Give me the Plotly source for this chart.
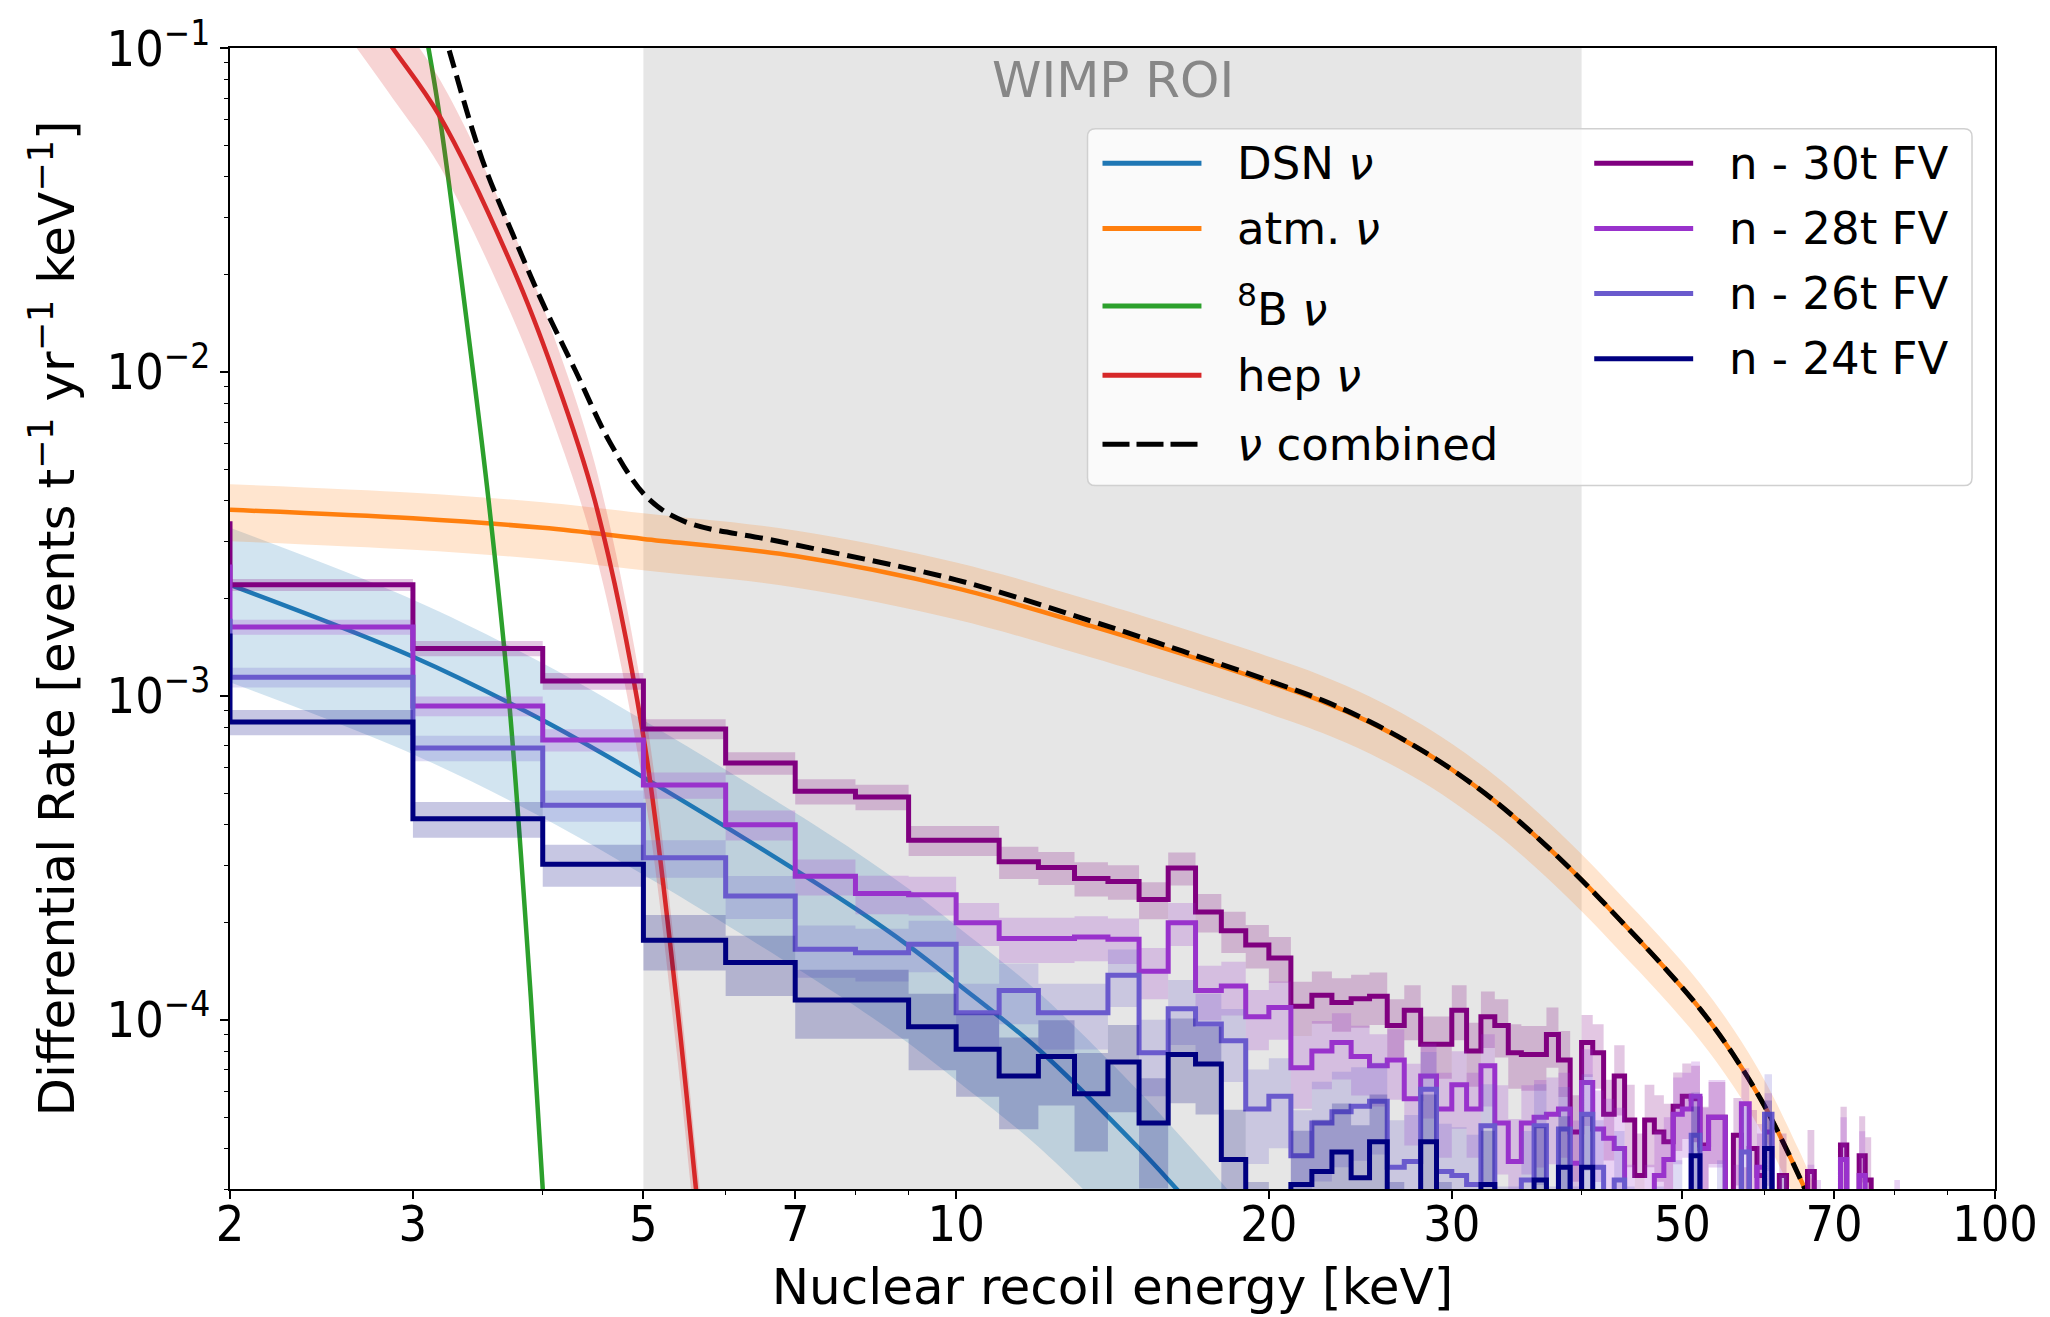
import numpy as np
import plotly.graph_objects as go

# ------------------------------------------------------------------
# DATA
# smooth neutrino spectra: recoil energy [keV] -> rate [events t^-1 yr^-1 keV^-1]
# ------------------------------------------------------------------
dsn_E = [2, 3, 4, 5, 7, 8, 9, 10, 12, 15, 16.3, 18, 19.5]
dsn_R = [2.2e-3, 1.32e-3, 8.4e-4, 5.6e-4, 2.9e-4, 2.2e-4, 1.69e-4, 1.3e-4,
         8.1e-5, 4.0e-5, 3.0e-5, 2.1e-5, 1.55e-5]

atm_E = [2, 3, 4, 5, 7, 10, 13.5, 16.5, 20, 22.5, 25, 27.5, 30, 33, 36.4, 40, 43.5,
         47.5, 52, 55.9, 60.2, 64.8, 67, 68.5]
atm_R = [3.75e-3, 3.53e-3, 3.3e-3, 3.05e-3, 2.70e-3, 2.15e-3, 1.64e-3, 1.346e-3, 1.1e-3,
         9.61e-4, 8.29e-4, 7.05e-4, 5.92e-4, 4.73e-4, 3.61e-4, 2.70e-4, 2.04e-4,
         1.51e-4, 1.08e-4, 7.85e-5, 5.31e-5, 3.28e-5, 2.57e-5, 2.16e-5]

b8_E = [3.05, 3.105, 3.183, 3.428, 3.548, 3.709, 3.896, 4.0, 4.05]
b8_R = [0.135, 0.1, 0.0616, 0.01, 4.0e-3, 1.0e-3, 1.17e-4, 3.0e-5, 1.6e-5]

hep_E = [2.6, 2.868, 3.183, 3.747, 4.095, 4.49, 4.993, 5.377, 5.618, 5.7]
hep_R = [0.155, 0.1, 0.0616, 0.0208, 0.01, 4.0e-3, 7.7e-4, 1.17e-4, 3.0e-5, 1.9e-5]

comb_E = [3.15, 3.246, 3.5, 3.747, 4.0, 4.3, 4.65, 5.04, 5.48, 6.74, 10, 13.5, 16.5,
          20, 22.5, 25, 27.5, 30, 33, 36.4, 40, 43.5, 47.5, 52, 55.9, 60.2, 64.8, 67]
comb_R = [0.14, 0.1, 0.045, 0.0264, 0.0163, 0.0101, 6.0e-3, 4.1e-3, 3.45e-3,
          3.0e-3, 2.28e-3, 1.70e-3, 1.375e-3, 1.113e-3, 9.7e-4, 8.33e-4, 7.06e-4,
          5.92e-4, 4.73e-4, 3.61e-4, 2.70e-4, 2.04e-4, 1.51e-4, 1.08e-4, 7.85e-5,
          5.31e-5, 3.28e-5, 2.57e-5]

# fractional 1-sigma flux uncertainties (shaded bands)
dsn_unc = 0.5
atm_unc = 0.2
hep_unc = 0.3

# neutron background histograms, 1 keV bins from 1 to 100 keV
bin_edges = list(range(1, 101))
n30 = [3.4e-3, 2.20e-3, 1.40e-3, 1.11e-3, 7.9e-4, 6.2e-4, 5.07e-4, 4.87e-4, 3.58e-4, 3.58e-4,
       3.07e-4, 2.95e-4, 2.73e-4, 2.67e-4, 2.35e-4, 2.94e-4, 2.15e-4, 1.88e-4, 1.70e-4, 1.55e-4,
       1.10e-4, 1.19e-4, 1.13e-4, 1.16e-4, 1.18e-4, 9.6e-5, 1.07e-4, 8.4e-5, 8.4e-5, 1.07e-4,
       8.0e-5, 1.02e-4, 9.6e-5, 7.9e-5, 7.8e-5, 7.8e-5, 9.0e-5, 7.5e-5, 4.5e-5, 8.5e-5,
       7.9e-5, 5.1e-5, 6.7e-5, 4.9e-5, 3.3e-5, 4.9e-5, 4.5e-5, 4.2e-5, 5.4e-5, 5.8e-5,
       5.7e-5, 4.1e-5, 5.0e-5, 5.0e-5, 2.0e-5, 4.4e-5, 2.5e-5, 4.0e-5, 3.3e-5, 0,
       2.0e-5, 3.3e-5, 0, 0, 0, 3.4e-5, 2.0e-5, 0, 0, 0,
       4.1e-5, 0, 0, 3.8e-5, 3.2e-5, 0, 0, 0, 0, 0,
       0, 0, 0, 0, 0, 0, 0, 0, 0, 0,
       0, 0, 0, 0, 0, 0, 0, 0, 0]
n28 = [2.5e-3, 1.63e-3, 9.3e-4, 7.3e-4, 5.3e-4, 4.0e-4, 2.77e-4, 2.45e-4, 2.43e-4, 1.99e-4,
       1.78e-4, 1.78e-4, 1.80e-4, 1.77e-4, 1.41e-4, 1.99e-4, 1.23e-4, 1.27e-4, 1.02e-4, 1.09e-4,
       7.1e-5, 8.0e-5, 8.5e-5, 7.7e-5, 7.2e-5, 7.5e-5, 5.7e-5, 6.7e-5, 5.3e-5, 6.3e-5,
       5.3e-5, 7.2e-5, 4.8e-5, 3.65e-5, 4.8e-5, 5.0e-5, 5.1e-5, 5.3e-5, 3.6e-5, 6.4e-5,
       4.6e-5, 4.3e-5, 4.0e-5, 2.5e-5, 2.0e-5, 2.5e-5, 3.3e-5, 3.7e-5, 5.1e-5, 5.3e-5,
       5.8e-5, 4.0e-5, 5.0e-5, 5.0e-5, 2.0e-5, 2.5e-5, 5.5e-5, 2.0e-5, 3.5e-5, 4.5e-5,
       0, 2.0e-5, 0, 0, 2.0e-5, 2.5e-5, 2.2e-5, 0, 0, 0,
       3.7e-5, 2.0e-5, 0, 3.3e-5, 0, 0, 0, 0, 0, 2.2e-5,
       0, 0, 0, 0, 0, 0, 0, 0, 0, 0,
       0, 0, 0, 0, 0, 0, 1.5e-5, 0, 0]
n26 = [1.7e-3, 1.14e-3, 6.9e-4, 4.59e-4, 3.16e-4, 2.41e-4, 1.65e-4, 1.61e-4, 1.71e-4, 1.05e-4,
       1.23e-4, 1.05e-4, 1.05e-4, 1.37e-4, 7.9e-5, 1.08e-4, 9.7e-5, 8.6e-5, 5.3e-5, 5.8e-5,
       3.8e-5, 4.8e-5, 5.2e-5, 5.4e-5, 5.6e-5, 3.5e-5, 3.65e-5, 6.1e-5, 3.4e-5, 3.3e-5,
       3.1e-5, 4.7e-5, 2.0e-5, 2.0e-5, 3.2e-5, 4.7e-5, 2.0e-5, 4.6e-5, 2.0e-5, 5.1e-5,
       3.5e-5, 0, 3.2e-5, 2.0e-5, 0, 0, 2.0e-5, 0, 2.5e-5, 0,
       4.4e-5, 0, 0, 2.5e-5, 0, 0, 3.9e-5, 0, 0, 5.1e-5,
       0, 2.2e-5, 0, 0, 0, 0, 0, 0, 0, 0,
       0, 0, 0, 0, 0, 0, 0, 0, 0, 0,
       0, 0, 0, 0, 0, 0, 0, 0, 0, 0,
       0, 0, 0, 0, 0, 0, 0, 0, 0]
n24 = [1.53e-3, 8.3e-4, 4.17e-4, 3.02e-4, 1.76e-4, 1.50e-4, 1.15e-4, 1.15e-4, 9.5e-5, 8.1e-5,
       6.7e-5, 7.7e-5, 5.9e-5, 7.4e-5, 4.8e-5, 7.8e-5, 7.3e-5, 3.7e-5, 2.0e-5, 1.5e-5,
       3.1e-5, 3.4e-5, 3.9e-5, 3.25e-5, 4.2e-5, 2.0e-5, 1.5e-5, 4.2e-5, 2.0e-5, 0,
       0, 3.1e-5, 0, 0, 0, 3.2e-5, 0, 3.5e-5, 0, 3.5e-5,
       0, 0, 0, 0, 0, 0, 0, 0, 0, 0,
       3.8e-5, 0, 0, 0, 0, 0, 0, 0, 0, 4.0e-5,
       0, 0, 0, 0, 0, 0, 0, 0, 0, 0,
       0, 0, 0, 0, 0, 0, 0, 0, 0, 0,
       0, 0, 0, 0, 0, 0, 0, 0, 0, 0,
       0, 0, 0, 0, 0, 0, 0, 0, 0]
hist_names = ["n - 30t FV", "n - 28t FV", "n - 26t FV", "n - 24t FV"]
# equivalent simulated events per unit rate (sets the Poisson error bands)
hist_exposure = [2.5e5, 2.2e5, 1.8e5, 1.5e5]

roi_E = [5, 40]
x_range = [2, 100]
y_range = [3e-5, 0.1]
x_tickvals = [2, 3, 5, 7, 10, 20, 30, 50, 70, 100]
x_ticktext = ["2", "3", "5", "7", "10", "20", "30", "50", "70", "100"]
x_minorvals = [4, 6, 8, 9, 40, 60, 80, 90]
y_tickvals = [1e-4, 1e-3, 1e-2, 1e-1]
y_ticktext = ["10<sup>−4</sup>", "10<sup>−3</sup>", "10<sup>−2</sup>", "10<sup>−1</sup>"]
y_minorvals = [k * 10.0 ** e for e in (-5, -4, -3, -2) for k in range(2, 10)]

# ------------------------------------------------------------------
# STYLE
# ------------------------------------------------------------------
FONT = "DejaVu Sans"
TICKFONT = "DejaVu Sans Condensed, DejaVu Sans"
C_DSN, C_ATM, C_B8, C_HEP = "#1f77b4", "#ff7f0e", "#2ca02c", "#d62728"
HIST_COLORS = ["#800080", "#9932cc", "#6a5acd", "#000080"]
FLOOR = 1e-7
W, H = 2050, 1317
PL, PR, PT, PB = 230, 1996, 44.7, 1192.7   # plot area in pixels
DASH = "18px,8px"
LEG_DASH = "27px,7px"


def rgba(hexcol, a):
    h = hexcol.lstrip("#")
    return "rgba(%d,%d,%d,%.3f)" % (int(h[0:2], 16), int(h[2:4], 16), int(h[4:6], 16), a)


def pxx(X):
    return (X - PL) / (PR - PL)


def pxy(Y):
    return 1 - (Y - PT) / (PB - PT)


fig = go.Figure()


def add_curve(E, R, color, unc=None, dash=None, width=4.5):
    E = np.asarray(E, float)
    R = np.asarray(R, float)
    if unc:
        fig.add_trace(go.Scatter(x=E, y=R * (1 - unc), mode="lines",
                                 line=dict(width=0, shape="spline", color=color),
                                 hoverinfo="skip", showlegend=False))
        fig.add_trace(go.Scatter(x=E, y=R * (1 + unc), mode="lines",
                                 line=dict(width=0, shape="spline", color=color),
                                 fill="tonexty", fillcolor=rgba(color, 0.2),
                                 hoverinfo="skip", showlegend=False))
    fig.add_trace(go.Scatter(x=E, y=R, mode="lines",
                             line=dict(color=color, width=width, shape="spline", dash=dash),
                             showlegend=False))


add_curve(dsn_E, dsn_R, C_DSN, dsn_unc)
add_curve(atm_E, atm_R, C_ATM, atm_unc)
add_curve(b8_E, b8_R, C_B8)
add_curve(hep_E, hep_R, C_HEP, hep_unc)
add_curve(comb_E, comb_R, "black", dash=DASH, width=5)

edges = np.asarray(bin_edges, float)
for vals, color, K in zip([n30, n28, n26, n24], HIST_COLORS, hist_exposure):
    v = np.asarray(vals, float)
    sig = np.sqrt(v / K)
    hi = np.maximum(v + sig, FLOOR)
    lo = np.maximum(v - sig, FLOOR)
    xs = np.repeat(edges, 2)[1:-1]
    bx = np.concatenate([xs, xs[::-1]])
    by = np.concatenate([np.repeat(hi, 2), np.repeat(lo, 2)[::-1]])
    fig.add_trace(go.Scatter(x=bx, y=by, mode="lines", fill="toself",
                             fillcolor=rgba(color, 0.22), line=dict(width=0),
                             hoverinfo="skip", showlegend=False))
    vv = np.maximum(v, FLOOR)
    fig.add_trace(go.Scatter(x=edges, y=np.append(vv, vv[-1]), mode="lines",
                             line=dict(color=color, width=5, shape="hv"),
                             showlegend=False))

# WIMP region of interest
fig.add_vrect(x0=roi_E[0], x1=roi_E[1], fillcolor="rgba(128,128,128,0.2)",
              line_width=0, layer="below")
fig.add_annotation(x=np.log10(np.sqrt(roi_E[0] * roi_E[1])), xref="x",
                   y=pxy(77), yref="paper", text="WIMP ROI", showarrow=False,
                   font=dict(family=FONT, size=50, color="#878787"),
                   xanchor="center", yanchor="middle")

# ---- legend (two columns, drawn by hand) ----
lx0, lx1, ly0, ly1 = pxx(1088), pxx(1973), pxy(485), pxy(126)
rx, ry = 8 / (PR - PL), 8 / (PB - PT)
path = ("M %f,%f L %f,%f Q %f,%f %f,%f L %f,%f Q %f,%f %f,%f L %f,%f Q %f,%f %f,%f "
        "L %f,%f Q %f,%f %f,%f Z") % (
    lx0 + rx, ly0, lx1 - rx, ly0, lx1, ly0, lx1, ly0 + ry,
    lx1, ly1 - ry, lx1, ly1, lx1 - rx, ly1,
    lx0 + rx, ly1, lx0, ly1, lx0, ly1 - ry,
    lx0, ly0 + ry, lx0, ly0, lx0 + rx, ly0)
fig.add_shape(type="path", path=path, xref="paper", yref="paper",
              fillcolor="rgba(255,255,255,0.8)", line=dict(color="#d0d0d0", width=1.5),
              layer="above")

leg1 = [("DSN <i>ν</i>", C_DSN, None, 160.7),
        ("atm. <i>ν</i>", C_ATM, None, 226.3),
        ("<sup>8</sup>B <i>ν</i>", C_B8, None, 304.3),
        ("hep <i>ν</i>", C_HEP, None, 374.0),
        ("<i>ν</i> combined", "black", "dash", 443.3)]
leg2 = [(hist_names[i], HIST_COLORS[i], None, yy)
        for i, yy in enumerate([160.7, 226.3, 291.7, 357.3])]
for entries, x0, x1, xt in [(leg1, 1103, 1202, 1236), (leg2, 1595, 1694, 1728)]:
    for text, col, dsh, yy in entries:
        fig.add_shape(type="line", xref="paper", yref="paper",
                      x0=pxx(x0), x1=pxx(x1), y0=pxy(yy), y1=pxy(yy),
                      line=dict(color=col, width=5, dash=LEG_DASH if dsh else None),
                      layer="above")
        fig.add_annotation(x=pxx(xt), y=pxy(yy), xref="paper", yref="paper",
                           text=text, showarrow=False, xanchor="left", yanchor="middle",
                           font=dict(family=FONT, size=45, color="black"))

axis_common = dict(showline=True, linecolor="black", linewidth=1.5, mirror=True,
                   showgrid=False, zeroline=False, ticks="outside", ticklen=8,
                   tickwidth=1.5, tickcolor="black",
                   tickfont=dict(family=TICKFONT, size=50, color="black"))

fig.update_xaxes(type="log", range=[np.log10(x_range[0]), np.log10(x_range[1])],
                 tickmode="array", tickvals=x_tickvals, ticktext=x_ticktext,
                 ticklabelstandoff=-18,
                 minor=dict(tickmode="array", tickvals=x_minorvals, ticks="outside",
                            ticklen=4.5, tickwidth=1.2, tickcolor="black", showgrid=False),
                 title=dict(text="Nuclear recoil energy [keV]",
                            font=dict(family=FONT, size=50, color="black"), standoff=17),
                 **axis_common)
fig.update_yaxes(type="log", range=[np.log10(y_range[0]), np.log10(y_range[1])],
                 tickmode="array", tickvals=y_tickvals, ticktext=y_ticktext,
                 minor=dict(tickmode="array", tickvals=y_minorvals, ticks="outside",
                            ticklen=4.5, tickwidth=1.2, tickcolor="black", showgrid=False),
                 title=dict(text="Differential Rate [events t<sup>−1</sup> yr<sup>−1</sup> keV<sup>−1</sup>]",
                            font=dict(family=FONT, size=50, color="black"), standoff=16),
                 **axis_common)

fig.update_layout(width=W, height=H,
                  margin=dict(l=PL, r=W - PR, t=PT, b=H - PB),
                  paper_bgcolor="white", plot_bgcolor="white",
                  font=dict(family=FONT, size=44, color="black"),
                  showlegend=False)

fig.write_html("out.html",
               config={"displayModeBar": False},
               post_script="document.body.style.margin='0';"
                           "document.documentElement.style.overflow='hidden';")
